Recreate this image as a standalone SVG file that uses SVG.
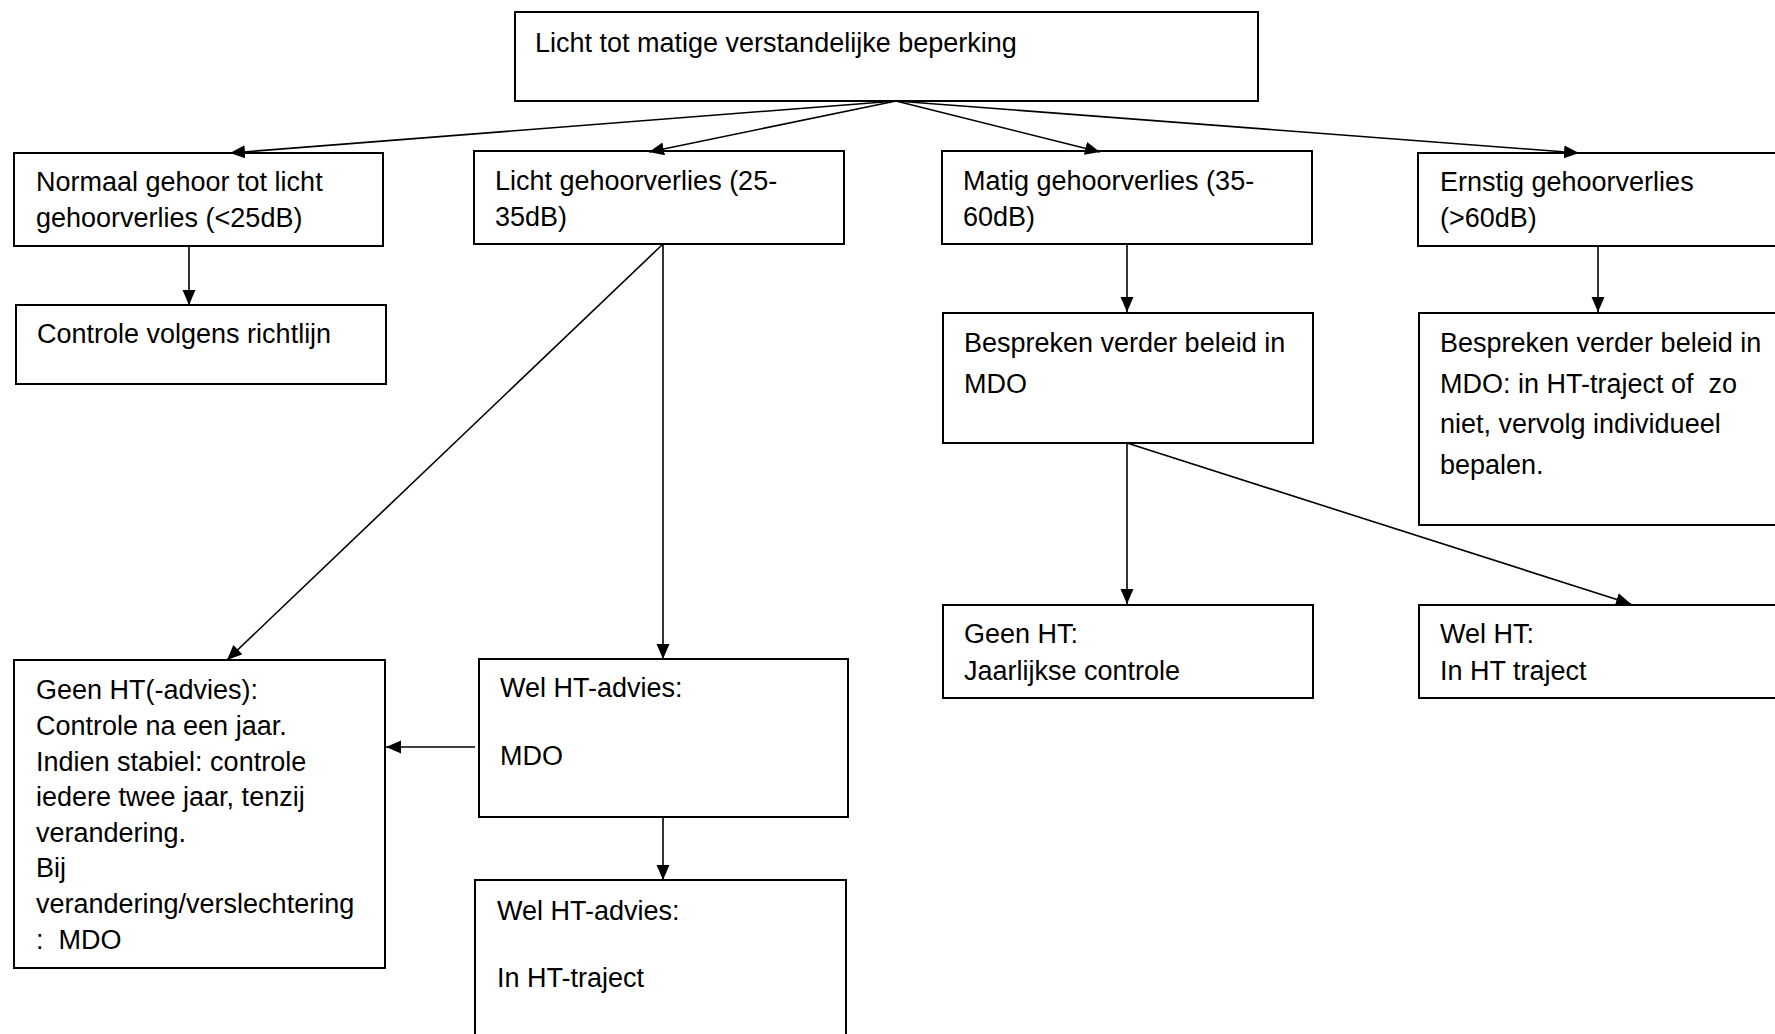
<svg xmlns="http://www.w3.org/2000/svg" width="1775" height="1034" viewBox="0 0 1775 1034">
<style>
.box{fill:#fff;stroke:#000;stroke-width:2}
.t{font-family:"Liberation Sans",Arial,sans-serif;font-size:27px;fill:#000;white-space:pre}
.c{stroke:#000;stroke-width:1.6;fill:none;marker-end:url(#ah)}
</style>
<defs>
<marker id="ah" markerUnits="userSpaceOnUse" markerWidth="16" markerHeight="14" refX="15" refY="6.5" orient="auto">
<path d="M0,0 L15,6.5 L0,13 z" fill="#000"/>
</marker>
</defs>
<rect width="1775" height="1034" fill="#fff"/>
<g id="n-top"><rect class="box" x="515" y="12" width="743" height="89"/><text class="t" x="535" y="52">Licht tot matige verstandelijke beperking</text></g>
<g id="n-normaal"><rect class="box" x="14" y="153" width="369" height="93"/><text class="t" x="36" y="191">Normaal gehoor tot licht</text><text class="t" x="36" y="227">gehoorverlies (&lt;25dB)</text></g>
<g id="n-licht"><rect class="box" x="474" y="151" width="370" height="93"/><text class="t" x="495" y="190">Licht gehoorverlies (25-</text><text class="t" x="495" y="226">35dB)</text></g>
<g id="n-matig"><rect class="box" x="942" y="151" width="370" height="93"/><text class="t" x="963" y="190">Matig gehoorverlies (35-</text><text class="t" x="963" y="226">60dB)</text></g>
<g id="n-ernstig"><rect class="box" x="1418" y="153" width="372" height="93"/><text class="t" x="1440" y="191">Ernstig gehoorverlies</text><text class="t" x="1440" y="227">(&gt;60dB)</text></g>
<g id="n-controle"><rect class="box" x="16" y="305" width="370" height="79"/><text class="t" x="37" y="343">Controle volgens richtlijn</text></g>
<g id="n-bespreken1"><rect class="box" x="943" y="313" width="370" height="130"/><text class="t" x="964" y="352">Bespreken verder beleid in</text><text class="t" x="964" y="393">MDO</text></g>
<g id="n-bespreken2"><rect class="box" x="1419" y="313" width="371" height="212"/><text class="t" x="1440" y="352">Bespreken verder beleid in</text><text class="t" x="1440" y="393" xml:space="preserve">MDO: in HT-traject of  zo</text><text class="t" x="1440" y="433">niet, vervolg individueel</text><text class="t" x="1440" y="474">bepalen.</text></g>
<g id="n-geenjaar"><rect class="box" x="943" y="605" width="370" height="93"/><text class="t" x="964" y="643">Geen HT:</text><text class="t" x="964" y="680">Jaarlijkse controle</text></g>
<g id="n-welin"><rect class="box" x="1419" y="605" width="371" height="93"/><text class="t" x="1440" y="643">Wel HT:</text><text class="t" x="1440" y="680">In HT traject</text></g>
<g id="n-geenht"><rect class="box" x="14" y="660" width="371" height="308"/>
<text class="t" x="36" y="699">Geen HT(-advies):</text>
<text class="t" x="36" y="735">Controle na een jaar.</text>
<text class="t" x="36" y="771">Indien stabiel: controle</text>
<text class="t" x="36" y="806">iedere twee jaar, tenzij</text>
<text class="t" x="36" y="842">verandering.</text>
<text class="t" x="36" y="877">Bij</text>
<text class="t" x="36" y="913">verandering/verslechtering</text>
<text class="t" x="36" y="949" xml:space="preserve">:  MDO</text></g>
<g id="n-welmdo"><rect class="box" x="479" y="659" width="369" height="158"/><text class="t" x="500" y="697">Wel HT-advies:</text><text class="t" x="500" y="765">MDO</text></g>
<g id="n-weltraject"><rect class="box" x="475" y="880" width="371" height="170"/><text class="t" x="497" y="920">Wel HT-advies:</text><text class="t" x="497" y="987">In HT-traject</text></g>
<g id="connectors">
<line class="c" x1="896" y1="101" x2="230" y2="153"/>
<line class="c" x1="896" y1="101" x2="649" y2="152"/>
<line class="c" x1="896" y1="101" x2="1100" y2="152"/>
<line class="c" x1="896" y1="101" x2="1579" y2="153"/>
<line class="c" x1="189" y1="246" x2="189" y2="305"/>
<line class="c" x1="663" y1="244" x2="227" y2="660"/>
<line class="c" x1="663" y1="244" x2="663" y2="659"/>
<line class="c" x1="475" y1="747" x2="386" y2="747"/>
<line class="c" x1="663" y1="817" x2="663" y2="880"/>
<line class="c" x1="1127" y1="244" x2="1127" y2="312"/>
<line class="c" x1="1598" y1="246" x2="1598" y2="312"/>
<line class="c" x1="1127" y1="443" x2="1127" y2="604"/>
<line class="c" x1="1127" y1="443" x2="1631" y2="604"/>
</g>
</svg>
